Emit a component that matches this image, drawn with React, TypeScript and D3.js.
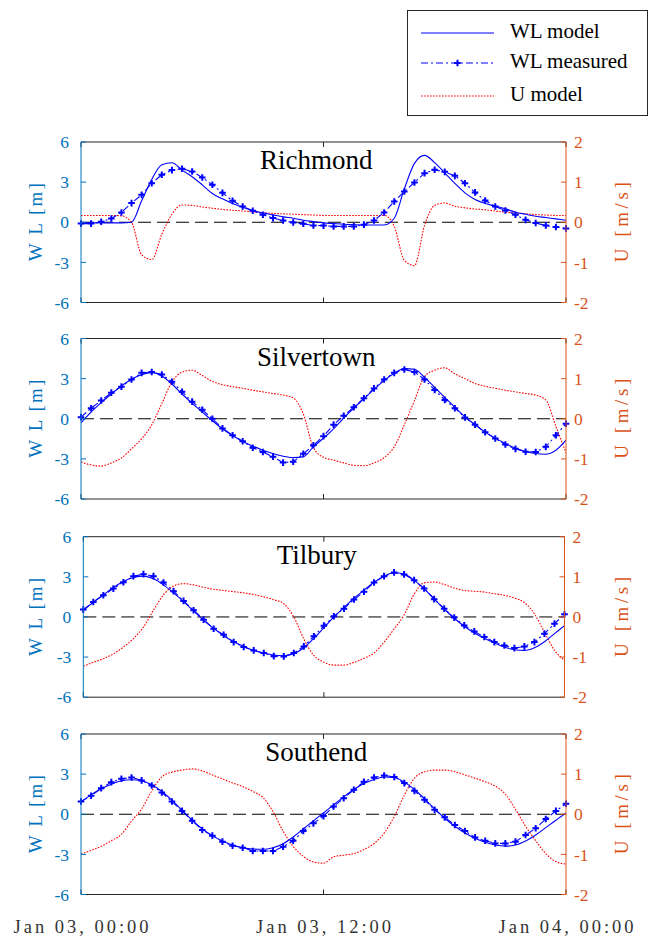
import React from "react";
import * as d3 from "d3";

const HOURS = [0,0.5,1,1.5,2,2.5,3,3.5,4,4.5,5,5.5,6,6.5,7,7.5,8,8.5,9,9.5,10,10.5,11,11.5,12,12.5,13,13.5,14,14.5,15,15.5,16,16.5,17,17.5,18,18.5,19,19.5,20,20.5,21,21.5,22,22.5,23,23.5,24];

const STATIONS = ["Richmond", "Silvertown", "Tilbury", "Southend"];

const richmondModel = [-0.05,-0.05,-0.05,-0.05,-0.05,0.0,1.6,3.2,4.3,4.45,3.9,3.4,2.8,2.15,1.75,1.4,1.12,0.87,0.7,0.55,0.4,0.3,0.15,0.05,-0.05,-0.1,-0.15,-0.18,-0.2,-0.2,-0.2,0.3,2.5,4.4,5.0,4.46,3.7,2.9,2.2,1.7,1.4,1.2,1.0,0.75,0.6,0.45,0.35,0.25,0.15];
const richmondMeasured = [-0.1,-0.1,0.04,0.28,0.73,1.43,2.05,2.92,3.55,3.9,4.0,3.8,3.35,2.8,2.2,1.6,1.18,0.86,0.56,0.31,0.13,-0.02,-0.11,-0.24,-0.25,-0.31,-0.31,-0.31,-0.18,0.13,0.73,1.55,2.3,2.97,3.67,3.92,3.77,3.47,2.92,2.23,1.63,1.18,0.88,0.56,0.18,-0.06,-0.24,-0.36,-0.46];
const richmondU = [0.17,0.17,0.17,0.17,0.16,0.0,-0.81,-0.93,-0.3,0.2,0.43,0.42,0.38,0.35,0.32,0.3,0.28,0.26,0.24,0.22,0.21,0.2,0.19,0.18,0.17,0.17,0.17,0.17,0.17,0.17,0.17,-0.1,-0.95,-1.08,-0.08,0.42,0.48,0.4,0.36,0.33,0.31,0.28,0.25,0.23,0.21,0.19,0.18,0.17,0.17];

const silvertownModel = [-0.3,0.5,1.2,1.85,2.45,2.95,3.3,3.45,3.2,2.6,1.85,1.15,0.5,-0.15,-0.75,-1.25,-1.7,-2.05,-2.35,-2.6,-2.8,-2.9,-2.85,-2.1,-1.45,-0.75,0.05,0.8,1.5,2.2,2.85,3.4,3.75,3.7,3.1,2.35,1.6,0.85,0.15,-0.45,-1.0,-1.45,-1.85,-2.2,-2.45,-2.6,-2.65,-2.35,-1.6];
const silvertownMeasured = [0.12,0.79,1.36,1.95,2.4,2.94,3.43,3.5,3.3,2.77,2.02,1.28,0.67,0.0,-0.72,-1.23,-1.68,-2.17,-2.49,-2.84,-3.28,-3.21,-2.62,-1.98,-1.3,-0.44,0.22,0.86,1.53,2.27,2.94,3.43,3.68,3.5,2.94,2.15,1.41,0.79,0.1,-0.44,-1.01,-1.48,-1.93,-2.25,-2.47,-2.49,-2.1,-1.23,-0.37];
const silvertownU = [-1.08,-1.15,-1.18,-1.1,-0.98,-0.75,-0.5,-0.15,0.38,0.92,1.16,1.21,1.08,0.93,0.85,0.8,0.76,0.71,0.67,0.63,0.59,0.52,0.12,-0.72,-0.96,-1.03,-1.1,-1.16,-1.17,-1.1,-0.97,-0.7,-0.15,0.45,1.05,1.21,1.27,1.12,1.0,0.88,0.81,0.76,0.71,0.67,0.63,0.59,0.47,-0.19,-0.85];

const tilburyModel = [0.5,1.1,1.65,2.2,2.65,2.95,3.05,2.85,2.4,1.8,1.15,0.45,-0.25,-0.85,-1.4,-1.85,-2.2,-2.5,-2.7,-2.85,-2.9,-2.75,-2.3,-1.6,-0.8,0.0,0.7,1.4,2.0,2.6,3.05,3.3,3.2,2.75,2.1,1.35,0.6,-0.1,-0.7,-1.2,-1.6,-1.95,-2.25,-2.45,-2.5,-2.3,-1.85,-1.25,-0.65];
const tilburyMeasured = [0.55,1.12,1.62,2.12,2.6,3.05,3.2,3.05,2.58,1.93,1.2,0.5,-0.2,-0.88,-1.33,-1.88,-2.25,-2.5,-2.7,-2.93,-2.95,-2.7,-2.2,-1.45,-0.65,0.05,0.62,1.3,1.88,2.58,3.05,3.33,3.18,2.75,2.13,1.33,0.62,-0.05,-0.63,-1.08,-1.5,-1.88,-2.13,-2.33,-2.2,-1.88,-1.25,-0.5,0.2];
const tilburyU = [-1.23,-1.13,-1.04,-0.92,-0.75,-0.54,-0.25,0.17,0.55,0.77,0.83,0.8,0.74,0.69,0.66,0.63,0.6,0.56,0.5,0.43,0.33,0.0,-0.55,-0.96,-1.13,-1.2,-1.2,-1.13,-1.03,-0.9,-0.63,-0.3,0.05,0.57,0.85,0.87,0.81,0.72,0.66,0.64,0.62,0.58,0.54,0.47,0.36,0.08,-0.38,-0.83,-1.08];

const southendModel = [0.95,1.45,1.9,2.25,2.5,2.58,2.5,2.2,1.7,1.05,0.3,-0.45,-1.1,-1.6,-2.0,-2.3,-2.5,-2.6,-2.62,-2.5,-2.2,-1.7,-1.1,-0.5,0.1,0.7,1.3,1.85,2.3,2.6,2.78,2.75,2.4,1.85,1.15,0.4,-0.3,-0.9,-1.4,-1.8,-2.1,-2.3,-2.38,-2.3,-2.0,-1.55,-1.0,-0.45,0.08];
const southendMeasured = [0.95,1.38,1.95,2.4,2.65,2.75,2.53,2.15,1.63,0.95,0.25,-0.48,-1.18,-1.6,-2.05,-2.35,-2.5,-2.75,-2.75,-2.75,-2.43,-1.98,-1.25,-0.68,-0.14,0.58,1.2,1.83,2.43,2.75,2.9,2.78,2.33,1.75,1.08,0.33,-0.23,-0.8,-1.25,-1.73,-1.98,-2.18,-2.18,-2.05,-1.55,-1.05,-0.35,0.25,0.78];
const southendU = [-0.99,-0.9,-0.8,-0.66,-0.5,-0.17,0.13,0.58,0.93,1.05,1.1,1.13,1.08,0.98,0.88,0.78,0.69,0.57,0.42,0.07,-0.42,-0.8,-1.05,-1.19,-1.22,-1.06,-1.02,-0.98,-0.88,-0.73,-0.47,-0.06,0.48,0.9,1.06,1.1,1.1,1.06,0.98,0.9,0.81,0.7,0.5,0.12,-0.3,-0.66,-0.98,-1.18,-1.24];

const WL_TICKS = [-6, -3, 0, 3, 6];
const U_TICKS = [-2, -1, 0, 1, 2];
const X_TICK_HOURS = [0, 12, 24];
const X_TICK_LABELS = ["Jan 03, 00:00", "Jan 03, 12:00", "Jan 04, 00:00"];
const LEGEND_LABELS = ["WL model", "WL measured", "U model"];

const MODEL = [richmondModel, silvertownModel, tilburyModel, southendModel];
const MEASURED = [richmondMeasured, silvertownMeasured, tilburyMeasured, southendMeasured];
const UMODEL = [richmondU, silvertownU, tilburyU, southendU];

const W = 649, H = 941;
const TOPS = [142, 338.5, 536.7, 734];
const PH = 160.5;
const XR = [[81, 566], [81, 566], [83.3, 564.5], [81, 566]];

const FONT = "Liberation Serif, Times New Roman, serif";
const BLUE_AX = "#0072BD";
const ORANGE_AX = "#D95319";
const FRAME = "#262626";

function plusPath(x: number, y: number, s = 3.3) {
  return `M${x - s},${y}H${x + s}M${x},${y - s}V${y + s}`;
}

function Panel({ idx }: { idx: number }) {
  const top = TOPS[idx];
  const bottom = top + PH;
  const [x0, x1] = XR[idx];
  const x = d3.scaleLinear().domain([0, 24]).range([x0, x1]);
  const yL = d3.scaleLinear().domain([-6, 6]).range([bottom, top]);
  const yR = d3.scaleLinear().domain([-2, 2]).range([bottom, top]);
  const model = MODEL[idx], meas = MEASURED[idx], u = UMODEL[idx];
  const lineM = d3.line<number>().x((_, i) => x(HOURS[i])).y((d) => yL(d)).curve(d3.curveMonotoneX);
  const lineMeas = d3.line<number>().x((_, i) => x(HOURS[i])).y((d) => yL(d));
  const lineU = d3.line<number>().x((_, i) => x(HOURS[i])).y((d) => yR(d)).curve(d3.curveMonotoneX);
  const clipId = `clip${idx}`;
  const tl = 5;
  return (
    <g>
      <defs>
        <clipPath id={clipId}>
          <rect x={x0} y={top} width={x1 - x0} height={PH} />
        </clipPath>
      </defs>
      <g clipPath={`url(#${clipId})`}>
        <line x1={x0} x2={x1} y1={yL(0)} y2={yL(0)} stroke="#000" strokeWidth={1} strokeDasharray="13,6" />
        <path d={lineU(u) || ""} fill="none" stroke="#FF0000" strokeWidth={1.1} strokeDasharray="1.6,1.4" />
        <path d={lineM(model) || ""} fill="none" stroke="#0000FF" strokeWidth={1.1} />
        <path d={lineMeas(meas) || ""} fill="none" stroke="#0000FF" strokeWidth={1.1} strokeDasharray="7,3,2,3" />
      </g>
      {meas.map((d, i) => (
        <path key={i} d={plusPath(x(HOURS[i]), yL(d))} stroke="#0000FF" strokeWidth={2} fill="none" />
      ))}
      <line x1={x0} x2={x1} y1={top} y2={top} stroke={FRAME} strokeWidth={1} />
      <line x1={x0} x2={x1} y1={bottom} y2={bottom} stroke={FRAME} strokeWidth={1} />
      {X_TICK_HOURS.map((h) => (
        <g key={h}>
          <line x1={x(h)} x2={x(h)} y1={top} y2={top + tl} stroke={FRAME} />
          <line x1={x(h)} x2={x(h)} y1={bottom} y2={bottom - tl} stroke={FRAME} />
        </g>
      ))}
      <line x1={x0} x2={x0} y1={top} y2={bottom} stroke={BLUE_AX} strokeWidth={1} />
      <line x1={x1} x2={x1} y1={top} y2={bottom} stroke={ORANGE_AX} strokeWidth={1} />
      {WL_TICKS.map((t) => (
        <g key={t}>
          <line x1={x0} x2={x0 + tl} y1={yL(t)} y2={yL(t)} stroke={BLUE_AX} />
          <text x={x0 - 12} y={yL(t)} dy="0.35em" textAnchor="end" fontSize={17.5} fill={BLUE_AX} fontFamily={FONT}>
            {t}
          </text>
        </g>
      ))}
      {U_TICKS.map((t) => (
        <g key={t}>
          <line x1={x1} x2={x1 - tl} y1={yR(t)} y2={yR(t)} stroke={ORANGE_AX} />
          <text x={x1 + 8} y={yR(t)} dy="0.35em" textAnchor="start" fontSize={17.5} fill={ORANGE_AX} fontFamily={FONT}>
            {t}
          </text>
        </g>
      ))}
      <text
        transform={`translate(42,${(top + bottom) / 2}) rotate(-90)`}
        textAnchor="middle"
        fontSize={19}
        fill={BLUE_AX}
        fontFamily={FONT}
        textLength={78}
        lengthAdjust="spacing"
      >
        W L [m]
      </text>
      <text
        transform={`translate(628,${(top + bottom) / 2}) rotate(-90)`}
        textAnchor="middle"
        fontSize={19}
        fill={ORANGE_AX}
        fontFamily={FONT}
        textLength={80}
        lengthAdjust="spacing"
      >
        U [m/s]
      </text>
      <text x={x0 + (x1 - x0) * 0.485} y={top + 27} textAnchor="middle" fontSize={27} fill="#000" fontFamily={FONT}>
        {STATIONS[idx]}
      </text>
      {idx === STATIONS.length - 1 &&
        X_TICK_HOURS.map((h, i) => (
          <text
            key={h}
            x={x(h)}
            y={933}
            textAnchor="middle"
            fontSize={18.5}
            fill="#333"
            fontFamily={FONT}
            textLength={135}
            lengthAdjust="spacing"
          >
            {X_TICK_LABELS[i]}
          </text>
        ))}
    </g>
  );
}

function Legend() {
  const rows = [33, 63, 96];
  const lx0 = 421, lx1 = 494;
  return (
    <g>
      <rect x={407.5} y={10.5} width={240} height={105} fill="#fff" stroke={FRAME} strokeWidth={1} />
      <line x1={lx0} x2={lx1} y1={rows[0]} y2={rows[0]} stroke="#0000FF" strokeWidth={1.1} />
      <line x1={lx0} x2={lx1} y1={rows[1]} y2={rows[1]} stroke="#0000FF" strokeWidth={1.1} strokeDasharray="7,3,2,3" />
      <path d={plusPath((lx0 + lx1) / 2, rows[1])} stroke="#0000FF" strokeWidth={2} />
      <line x1={lx0} x2={lx1} y1={rows[2]} y2={rows[2]} stroke="#FF0000" strokeWidth={1.1} strokeDasharray="1.6,1.4" />
      {LEGEND_LABELS.map((l, i) => (
        <text key={l} x={510} y={rows[i] + 5} fontSize={21} fill="#000" fontFamily={FONT}>
          {l}
        </text>
      ))}
    </g>
  );
}

export default function App() {
  return (
    <svg width={W} height={H} style={{ position: "absolute", left: 0, top: 0, background: "#fff" }}>
      <rect width={W} height={H} fill="#fff" />
      {STATIONS.map((_, i) => (
        <Panel key={i} idx={i} />
      ))}
      <Legend />
    </svg>
  );
}
